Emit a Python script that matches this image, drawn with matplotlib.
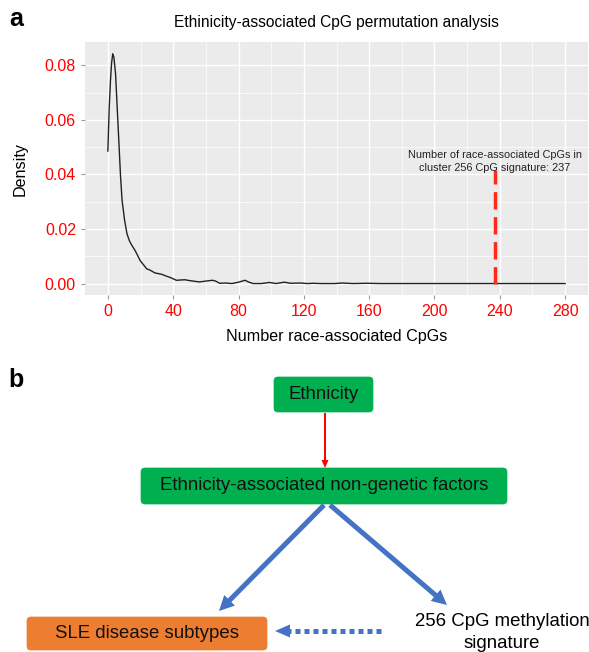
import matplotlib
matplotlib.use("Agg")
import matplotlib.pyplot as plt
from matplotlib.patches import FancyBboxPatch, FancyArrow

plt.rcParams['font.family'] = ['Liberation Sans', 'DejaVu Sans']

# density curve of permuted counts
cpg_x = [0, 0.8, 1.6, 2.3, 3.0, 3.7, 4.7, 5.7, 6.7, 7.7, 8.7, 10.3, 11.7, 13.1,
         14.5, 16.7, 19.8, 23.8, 25.9, 28.8, 32.9, 35.9, 37.9, 42, 47, 51, 56,
         60, 64, 66, 68.5, 72, 76, 80, 84, 86, 89, 94, 99, 103, 108, 112, 117.5,
         122.5, 125.6, 130.6, 138.7, 143.7, 149.8, 158.8, 166.7, 200, 240, 280]
density = [0.0486, 0.064, 0.0745, 0.081, 0.0843, 0.083, 0.077, 0.0647, 0.0525,
           0.040, 0.0305, 0.023, 0.0183, 0.0158, 0.0142, 0.0121, 0.0084, 0.0054,
           0.0049, 0.0039, 0.0034, 0.0027, 0.0023, 0.0012, 0.0014, 0.0010,
           0.0006, 0.0009, 0.0012, 0.0009, 0.0001, 0.0002, 0.0, 0.0005, 0.0012,
           0.0006, 0.0, 0.0, 0.0004, 0.0, 0.0005, 0.0001, 0.0002, 0.0, 0.0001,
           0.0, 0.0, 0.0002, 0.0, 0.0001, 0.0, 0.0, 0.0, 0.0]
observed = 237
x_ticks = [0, 40, 80, 120, 160, 200, 240, 280]
y_ticks = [0.00, 0.02, 0.04, 0.06, 0.08]

fig = plt.figure(figsize=(5.89, 6.52), dpi=100)

# ---- panel a ----
ax = fig.add_axes([85 / 589, 1 - 295 / 652, 503 / 589, 253 / 652])
ax.set_facecolor('#EBEBEB')
for s in ax.spines.values():
    s.set_visible(False)
ax.set_xlim(-14, 294)
ax.set_ylim(-0.0042, 0.0886)
ax.set_xticks(x_ticks)
ax.set_xticks([20, 60, 100, 140, 180, 220, 260], minor=True)
ax.set_yticks(y_ticks)
ax.set_yticks([0.01, 0.03, 0.05, 0.07], minor=True)
ax.set_yticklabels(['0.00', '0.02', '0.04', '0.06', '0.08'])
ax.grid(which='major', color='white', lw=1.0)
ax.grid(which='minor', color='white', lw=0.5)
ax.set_axisbelow(True)
ax.tick_params(which='major', colors='#999999', length=3, width=0.8, labelsize=11.5, labelcolor='red')
ax.tick_params(which='minor', length=0)

ax.plot(cpg_x, density, color='#222222', lw=1.0)
ax.plot([observed, observed], [0, 0.0415], color='#FF2A1A', lw=2.5, ls=(0, (5, 2.2)))
ax.text(observed, 0.0448, 'Number of race-associated CpGs in\ncluster 256 CpG signature: 237',
        ha='center', va='center', fontsize=7.8, color='#222222', linespacing=1.45)

ax.set_title('Ethinicity-associated CpG permutation analysis', fontsize=11.2, pad=11)
ax.set_xlabel('Number race-associated CpGs', fontsize=11.6, labelpad=7)
ax.set_ylabel('Density', fontsize=11.6, labelpad=12)

# ---- panel b (flow diagram in pixel coordinates) ----
fx = fig.add_axes([0, 0, 1, 1], zorder=-1)
fx.set_xlim(0, 589)
fx.set_ylim(652, 0)
fx.axis('off')

fx.text(16, 19, 'a', fontsize=18, fontweight='bold', va='center', ha='center')
fx.text(16, 380, 'b', fontsize=18, fontweight='bold', va='center', ha='center')

green = '#00B050'
blue = '#4472C4'
orange = '#ED7D31'


def box(x0, y0, x1, y1, color, label, size):
    p = FancyBboxPatch((x0 + 4, y0 + 4), x1 - x0 - 8, y1 - y0 - 8,
                       boxstyle='round,pad=4', fc=color, ec=color, lw=0.5)
    fx.add_patch(p)
    fx.text((x0 + x1) / 2, (y0 + y1) / 2, label, ha='center', va='center',
            fontsize=size, color='#111111')


box(274, 377, 373, 412, green, 'Ethnicity', 13.4)
box(141, 468, 507, 504, green, 'Ethnicity-associated non-genetic factors', 13.4)
box(27, 617, 267, 650, orange, 'SLE disease subtypes', 13.4)

fx.text(502, 622, '256 CpG methylation', ha='center', va='center', fontsize=13.4)
fx.text(502, 644, 'signature', ha='center', va='center', fontsize=13.4)


def arrow(x0, y0, x1, y1, color, width, head_w, head_len):
    fx.add_patch(FancyArrow(x0, y0, x1 - x0, y1 - y0, width=width, head_width=head_w,
                            head_length=head_len, length_includes_head=True,
                            fc=color, ec=color, lw=0))


arrow(325, 413, 325, 468, 'red', 2.0, 7, 8)
arrow(324, 505, 219, 611, blue, 5.0, 15, 15)
arrow(330, 505, 447, 605, blue, 5.0, 15, 15)

# dotted link with a solid head
fx.plot([381, 289], [631, 631], color=blue, lw=3.6, ls=(0, (1, 0.8)), solid_capstyle='butt',
        dash_capstyle='butt')
arrow(290, 631, 275, 631, blue, 0.0, 13, 15)

fig.savefig('out.png', dpi=100)
